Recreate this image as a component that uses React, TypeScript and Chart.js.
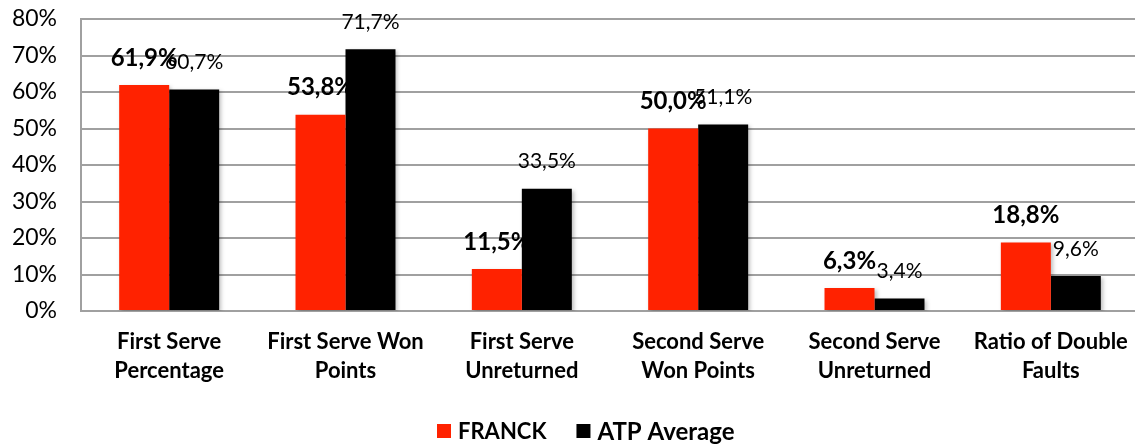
import React, { useEffect, useRef } from "react";
import { Chart, registerables } from "chart.js";

Chart.register(...registerables);

const categories: string[][] = [
  ["First Serve", "Percentage"],
  ["First Serve Won", "Points"],
  ["First Serve", "Unreturned"],
  ["Second Serve", "Won Points"],
  ["Second Serve", "Unreturned"],
  ["Ratio of Double", "Faults"],
];
const franck = [61.9, 53.8, 11.5, 50.0, 6.3, 18.8];
const atpAverage = [60.7, 71.7, 33.5, 51.1, 3.4, 9.6];
const yTicks = [0, 10, 20, 30, 40, 50, 60, 70, 80];
const seriesNames = ["FRANCK", "ATP Average"];
const seriesColors = ["#FF2200", "#000000"];

const FONT = "Lato, 'Open Sans', sans-serif";

const fmt = (v: number) => v.toFixed(1).replace(".", ",") + "%";

const labelPlugin = {
  id: "customLabels",
  beforeDatasetsDraw(chart: any) {
    const ctx = chart.ctx;
    ctx.save();
    ctx.shadowColor = "rgba(0,0,0,0.25)";
    ctx.shadowBlur = 4;
    ctx.shadowOffsetX = 2;
    ctx.shadowOffsetY = 2;
  },
  afterDatasetsDraw(chart: any) {
    const ctx = chart.ctx;
    ctx.restore();
    ctx.save();
    ctx.textAlign = "center";
    ctx.textBaseline = "middle";
    chart.data.datasets.forEach((ds: any, di: number) => {
      const meta = chart.getDatasetMeta(di);
      meta.data.forEach((bar: any, i: number) => {
        ctx.font = di === 0 ? `bold 24px ${FONT}` : `21px ${FONT}`;
        ctx.fillStyle = "#000";
        ctx.fillText(fmt(ds.data[i]), bar.x, bar.y - 27);
      });
    });
    ctx.restore();
  },
  afterDraw(chart: any) {
    const ctx = chart.ctx;
    ctx.save();
    ctx.textBaseline = "middle";
    ctx.textAlign = "left";
    const y = 431;
    let x = 437;
    seriesNames.forEach((name, i) => {
      ctx.font = `bold ${i === 0 ? 22 : 24}px ${FONT}`;
      ctx.fillStyle = seriesColors[i];
      ctx.fillRect(x, y - 7, 14, 14);
      ctx.fillStyle = "#000";
      ctx.fillText(name, x + 21, y + 1);
      x += 21 + ctx.measureText(name).width + 30;
    });
    ctx.restore();
  },
};

export default function App() {
  const ref = useRef<HTMLCanvasElement>(null);
  useEffect(() => {
    document.body.style.margin = "0";
    const chart = new Chart(ref.current!, {
      type: "bar",
      data: {
        labels: categories,
        datasets: [
          {
            label: seriesNames[0],
            data: franck,
            backgroundColor: seriesColors[0],
            barPercentage: 1,
            categoryPercentage: 0.567,
          },
          {
            label: seriesNames[1],
            data: atpAverage,
            backgroundColor: seriesColors[1],
            barPercentage: 1,
            categoryPercentage: 0.567,
          },
        ],
      },
      options: {
        animation: false,
        responsive: false,
        maintainAspectRatio: false,
        layout: { padding: { top: 19, right: 1, left: 0, bottom: 0 } },
        plugins: {
          legend: { display: false },
          tooltip: { enabled: false },
        },
        scales: {
          x: {
            grid: { display: false, drawTicks: false },
            border: { color: "#a0a0a0", width: 2 },
            ticks: {
              color: "#000",
              font: { family: FONT, size: 22, weight: "bold", lineHeight: 1.3 },
              padding: 17,
              maxRotation: 0,
              autoSkip: false,
            },
            afterFit(scale: any) {
              scale.height = 446 - 311;
              scale.paddingLeft = 0;
              scale.paddingRight = 0;
            },
          },
          y: {
            min: 0,
            max: 80,
            afterBuildTicks(scale: any) {
              scale.ticks = yTicks.map((v) => ({ value: v }));
            },
            grid: { color: "#a0a0a0", lineWidth: 2, drawTicks: false },
            border: { color: "#a0a0a0", width: 2 },
            ticks: {
              color: "#000",
              font: { family: FONT, size: 23 },
              padding: 24,
              callback: (v: any) => v + "%",
            },
            afterFit(scale: any) {
              scale.width = 81;
              scale.paddingTop = 0;
              scale.paddingBottom = 0;
            },
          },
        },
      },
      plugins: [labelPlugin],
    });
    return () => chart.destroy();
  }, []);
  return (
    <div
      style={{
        position: "absolute",
        left: 0,
        top: 0,
        width: 1135,
        height: 446,
        overflow: "hidden",
      }}
    >
      <canvas ref={ref} width={1140} height={446} style={{ display: "block" }} />
    </div>
  );
}
